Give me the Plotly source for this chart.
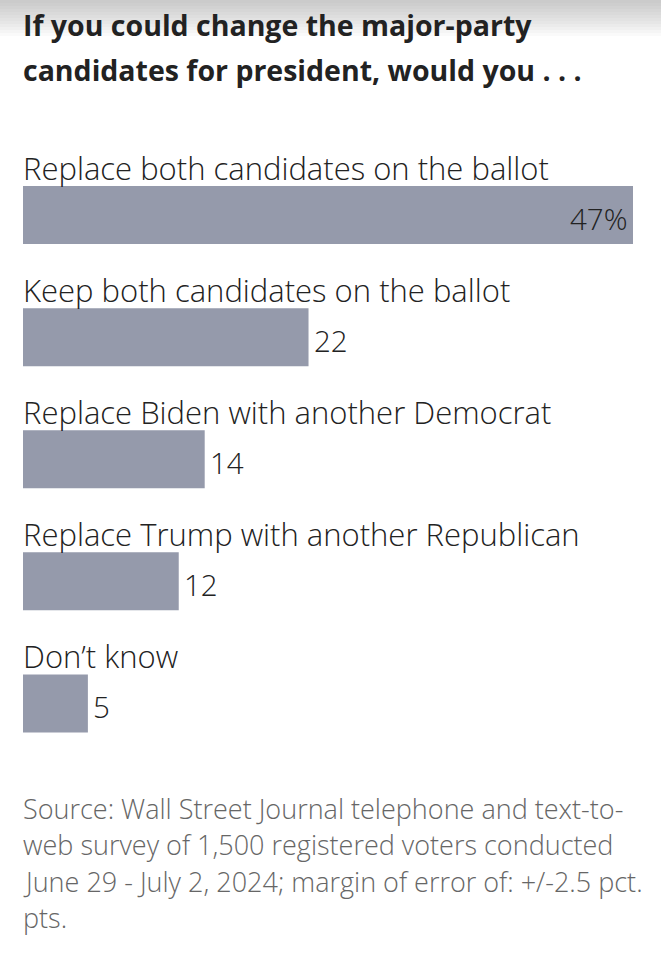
import plotly.graph_objects as go

categories = [
    "Replace both candidates on the ballot",
    "Keep both candidates on the ballot",
    "Replace Biden with another Democrat",
    "Replace Trump with another Republican",
    "Don’t know",
]
values = [47, 22, 14, 12, 5]
value_labels = ["47%", "22", "14", "12", "5"]

title_lines = [
    "If you could change the major-party",
    "candidates for president, would you . . .",
]
source_lines = [
    "Source: Wall Street Journal telephone and text-to-",
    "web survey of 1,500 registered voters conducted",
    "June 29 - July 2, 2024; margin of error of: +/-2.5 pct.",
    "pts.",
]

W, H = 661, 959
BAR_COLOR = "#959aab"
FONT = "Open Sans"

def py(pix):
    # container pixel (from top) -> paper fraction (margins are zero vertically)
    return 1 - pix / H

plot_top, plot_bot = 154, 764.5

fig = go.Figure()
fig.add_trace(go.Bar(
    x=values,
    y=list(range(len(categories))),
    orientation="h",
    marker=dict(color=BAR_COLOR, line=dict(width=0)),
    width=0.475,
    hoverinfo="skip",
))

ann = []
for i, (c, v, lab) in enumerate(zip(categories, values, value_labels)):
    ann.append(dict(x=0, y=i, xref="x", yref="y", text=c, showarrow=False,
                    xanchor="left", yanchor="middle", yshift=47, xshift=-2,
                    font=dict(family=FONT, size=31, color="#222222", weight=300)))
    if i == 0:
        ann.append(dict(x=v, y=i, xref="x", yref="y", text=lab, showarrow=False,
                        xanchor="right", yanchor="middle", xshift=-3, yshift=-3,
                        font=dict(family=FONT, size=29.5, color="#222222", weight=300)))
    else:
        ann.append(dict(x=v, y=i, xref="x", yref="y", text=lab, showarrow=False,
                        xanchor="left", yanchor="middle", xshift=3, yshift=-3,
                        font=dict(family=FONT, size=29.5, color="#222222", weight=300)))

for k, t in enumerate(title_lines):
    ann.append(dict(x=0, y=py(25 + 45 * k), xref="paper", yref="paper", text=t,
                    showarrow=False, xanchor="left", yanchor="middle", xshift=-2,
                    font=dict(family=FONT, size=28.5, color="#222222", weight=700)))

for k, t in enumerate(source_lines):
    ann.append(dict(x=0, y=py(808 + 36.5 * k), xref="paper", yref="paper", text=t,
                    showarrow=False, xanchor="left", yanchor="middle", xshift=-2,
                    font=dict(family=FONT, size=27, color="#666666", weight=300)))

# top gray gradient
shapes = []
n = 12
for j in range(n):
    shapes.append(dict(type="rect", xref="paper", yref="paper",
                       x0=-0.1, x1=1.1, y0=py(3 * (j + 1)), y1=1,
                       fillcolor="rgba(150,150,150,0.045)", line=dict(width=0), layer="below"))

fig.update_layout(
    width=W, height=H,
    margin=dict(l=23, r=28, t=0, b=0),
    paper_bgcolor="white", plot_bgcolor="white",
    showlegend=False,
    xaxis=dict(range=[0, 47], visible=False, fixedrange=True),
    yaxis=dict(range=[4.5, -0.5], visible=False, fixedrange=True,
               domain=[py(plot_bot), py(plot_top)]),
    annotations=ann,
    shapes=shapes,
)

fig.write_html("out.html", config={"displayModeBar": False},
               post_script="document.body.style.margin='0';")
